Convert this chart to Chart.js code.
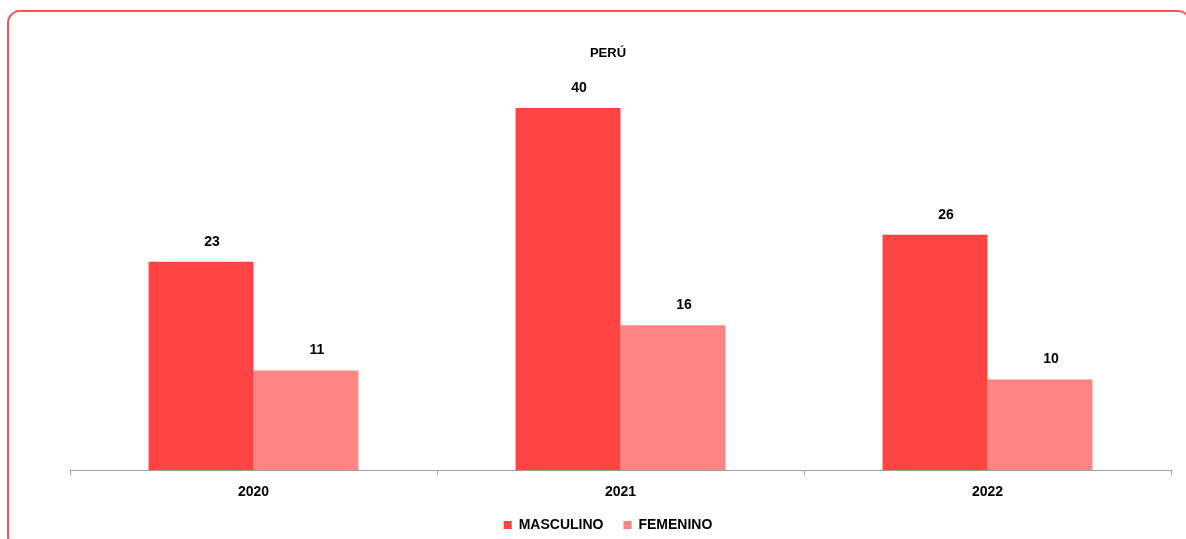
<!DOCTYPE html>
<html>
<head>
<meta charset="utf-8">
<script src="https://cdn.jsdelivr.net/npm/chart.js@4/dist/chart.umd.min.js"></script>
<style>
    html, body { margin: 0; padding: 0; background: #fff; overflow: hidden; }
    #wrap { position: relative; width: 1186px; height: 539px; overflow: hidden; }
    #frame {
        position: absolute; left: 7px; top: 10px; width: 1184px; height: 540px;
        border: 2px solid #ff5252; border-radius: 13px; box-sizing: border-box;
    }
    #perChart { position: absolute; left: 0; top: 0; }
</style>
</head>
<body>
<div id="wrap">
    <div id="frame"></div>
    <canvas id="perChart" width="1186" height="542"></canvas>
</div>
<script>
const years = ['2020', '2021', '2022'];
const masculino = [23, 40, 26];
const femenino = [11, 16, 10];
const titleText = 'PERÚ';

const FONT = "'Liberation Sans', Arial, sans-serif";

// numbers above each bar (the original sits them a bit right of centre)
const barValues = {
    id: 'barValues',
    afterDatasetsDraw(chart) {
        const ctx = chart.ctx;
        ctx.save();
        ctx.font = 'bold 14px ' + FONT;
        ctx.fillStyle = '#000';
        ctx.textAlign = 'center';
        ctx.textBaseline = 'middle';
        chart.data.datasets.forEach((ds, i) => {
            chart.getDatasetMeta(i).data.forEach((bar, j) => {
                ctx.fillText(ds.data[j], bar.x + 11, bar.y - 20);
            });
        });
        ctx.restore();
    }
};

new Chart(document.getElementById('perChart'), {
    type: 'bar',
    data: {
        labels: years,
        datasets: [
            {
                label: 'MASCULINO',
                data: masculino,
                backgroundColor: '#ff4444',
                categoryPercentage: 0.572,
                barPercentage: 1,
            },
            {
                label: 'FEMENINO',
                data: femenino,
                backgroundColor: '#ff8585',
                categoryPercentage: 0.572,
                barPercentage: 1,
            },
        ],
    },
    options: {
        responsive: false,
        animation: false,
        layout: { padding: { left: 45, right: 15, bottom: 0 } },
        scales: {
            x: {
                grid: { drawOnChartArea: false, drawTicks: true, tickLength: 5, color: '#a0a0a0' },
                border: { display: true, color: '#a0a0a0' },
                ticks: { color: '#000', font: { family: FONT, size: 14, weight: 'bold' }, padding: 9 },
                // legend padding is wide for the item gap; pull the axis closer to it
                afterFit(scale) { scale.height -= 12; },
            },
            y: {
                min: 0,
                max: 45,
                grid: { display: false },
                border: { display: false },
                ticks: { display: false },
                afterFit(scale) { scale.width = 25; },
            },
        },
        plugins: {
            title: {
                display: true,
                text: titleText,
                color: '#000',
                font: { family: FONT, size: 13, weight: 'bold' },
                padding: { top: 46, bottom: 1 },
            },
            legend: {
                position: 'bottom',
                labels: {
                    color: '#000',
                    boxWidth: 8,
                    boxHeight: 8,
                    padding: 20,
                    font: { family: FONT, size: 14, weight: 'bold' },
                },
            },
            tooltip: { enabled: false },
        },
    },
    plugins: [barValues],
});
</script>
</body>
</html>
